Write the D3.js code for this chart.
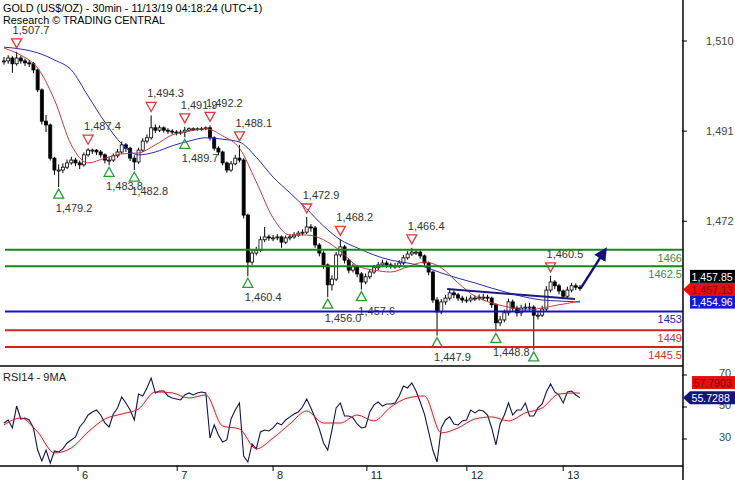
<!DOCTYPE html>
<html><head><meta charset="utf-8">
<script src="https://cdn.jsdelivr.net/npm/d3@7"></script>
<style>body{margin:0;background:#fff}svg{display:block}text{font-family:"Liberation Sans",Arial,sans-serif}</style>
</head><body><svg id="c" width="735" height="480"></svg>
<script>
// ---------- DATA ----------
const titleText = "GOLD (US$/OZ) - 30min - 11/13/19 04:18:24 (UTC+1)";
const subTitle = "Research \u00A9 TRADING CENTRAL";
const closes = [1505.8,1506.4,1505.2,1506.4,1505.8,1505.4,1505.2,1503.9,1499.7,1493.1,
1492.3,1485.3,1482.8,1482.8,1483.4,1484.3,1484.9,1484.3,1483.9,1486.0,
1487.0,1487.0,1486.6,1486.0,1484.9,1484.9,1485.8,1486.6,1488.1,1487.4,
1485.3,1484.5,1487.0,1488.9,1489.6,1491.7,1491.2,1491.7,1491.2,1491.0,
1490.8,1490.6,1490.8,1491.2,1491.5,1491.5,1491.5,1491.5,1491.7,1489.6,
1487.4,1486.6,1484.3,1482.8,1484.1,1485.3,1484.9,1473.3,1463.4,1465.3,
1465.9,1468.1,1468.7,1468.5,1468.5,1468.7,1467.6,1468.5,1468.7,1469.1,
1469.5,1469.7,1470.8,1470.6,1467.0,1465.3,1462.8,1458.6,1459.8,1464.9,
1466.6,1463.8,1461.7,1462.4,1460.9,1459.2,1460.3,1461.3,1462.2,1462.8,
1463.2,1462.8,1462.6,1462.6,1463.2,1464.3,1465.1,1465.5,1465.5,1464.7,
1463.2,1461.3,1455.4,1452.9,1455.0,1455.8,1456.9,1456.5,1455.8,1455.4,
1455.4,1455.8,1455.8,1456.0,1456.0,1455.8,1454.4,1450.6,1451.2,1452.7,
1455.0,1453.7,1452.7,1453.7,1453.9,1453.9,1452.2,1452.2,1453.5,1457.5,
1459.2,1458.4,1457.3,1456.2,1457.5,1458.4,1458.1,1457.85];
const highs = [1506.6,1507.0,1506.8,1507.7,1506.9,1506.3,1506.0,1505.6,1504.2,1500.0,
1494.4,1492.6,1485.6,1484.0,1484.2,1485.0,1485.6,1485.4,1484.8,1486.5,
1487.4,1487.3,1487.2,1487.0,1486.3,1485.6,1486.3,1487.2,1488.8,1488.5,
1487.7,1485.9,1487.5,1489.5,1490.3,1494.3,1492.4,1492.2,1492.0,1491.6,
1491.4,1491.2,1491.3,1491.9,1491.8,1491.8,1491.8,1491.9,1492.0,1492.2,
1489.9,1487.8,1486.9,1484.6,1484.7,1486.0,1488.1,1485.3,1473.6,1466.0,
1466.6,1468.8,1470.8,1469.2,1469.1,1469.3,1469.0,1469.0,1469.3,1469.7,
1470.0,1470.3,1472.9,1471.4,1471.0,1467.4,1465.7,1463.1,1460.6,1465.5,
1468.2,1467.0,1464.2,1463.1,1462.8,1461.3,1461.0,1461.9,1462.8,1463.4,
1463.9,1463.7,1463.3,1463.2,1463.8,1464.9,1465.7,1466.4,1466.1,1465.9,
1465.0,1463.5,1461.6,1456.0,1455.6,1456.5,1457.5,1457.4,1456.9,1456.3,
1456.1,1456.4,1456.4,1456.6,1456.7,1456.5,1456.1,1454.7,1452.0,1453.4,
1455.7,1455.5,1454.2,1454.4,1454.7,1454.8,1454.3,1453.0,1454.2,1458.3,
1460.5,1459.6,1458.8,1457.6,1458.2,1459.0,1458.9,1458.6];
const lows = [1505.0,1505.2,1503.3,1504.8,1505.2,1504.7,1504.5,1503.2,1499.2,1492.4,
1490.8,1484.8,1481.8,1479.2,1482.2,1483.0,1483.9,1483.6,1483.0,1483.5,
1485.6,1486.2,1486.0,1485.4,1484.2,1483.8,1484.5,1485.4,1486.2,1486.6,
1484.7,1482.8,1484.1,1486.6,1488.4,1489.2,1490.6,1490.8,1490.7,1490.4,
1490.3,1490.1,1490.2,1489.7,1490.9,1491.0,1491.1,1491.1,1491.2,1489.0,
1486.9,1485.9,1483.8,1482.2,1482.4,1483.8,1484.4,1472.6,1460.4,1462.8,
1464.8,1465.5,1467.6,1467.9,1467.8,1468.0,1466.4,1467.2,1468.0,1468.3,
1468.7,1469.0,1469.3,1469.8,1466.4,1464.6,1462.0,1456.0,1457.4,1459.4,
1464.4,1463.1,1461.0,1461.2,1460.2,1457.6,1458.7,1459.8,1460.9,1461.7,
1462.3,1462.2,1462.0,1462.0,1462.1,1462.8,1463.9,1464.7,1464.9,1464.1,
1462.6,1460.6,1454.8,1447.9,1452.4,1454.4,1455.3,1455.8,1455.2,1454.8,
1454.8,1454.9,1455.2,1455.3,1455.4,1455.1,1453.7,1448.8,1449.9,1450.7,
1452.1,1453.0,1451.9,1452.0,1453.0,1453.1,1444.9,1451.3,1451.8,1453.0,
1457.0,1457.7,1456.6,1455.6,1455.8,1457.0,1457.5,1457.3];
// moving averages, read at these bar indices
const maIndex = [0,4,8,12,16,20,24,28,32,36,40,44,48,52,56,60,64,68,72,76,80,84,88,92,96,100,104,108,112,116,120,124,128,132,136,137];
const maFast = [1508.5,1507.0,1504.3,1497.6,1488.1,1484.3,1485.3,1486.2,1486.4,1488.1,1490.2,1491.0,1491.5,1490.0,1487.4,1480.3,1472.7,1469.1,1469.1,1468.1,1465.7,1462.6,1461.7,1461.3,1462.4,1463.4,1462.2,1459.0,1456.2,1454.8,1453.9,1453.3,1453.7,1454.4,1455.0,1455.2];
const maSlow = [1508.7,1508.3,1507.5,1506.0,1503.9,1498.4,1492.9,1488.3,1486.0,1486.6,1487.9,1488.9,1489.6,1489.3,1488.7,1485.5,1481.3,1478.0,1474.6,1471.0,1468.1,1466.4,1464.9,1463.8,1463.2,1462.4,1461.1,1460.0,1459.0,1457.9,1456.9,1456.0,1455.4,1455.2,1455.0,1454.96];
const rsi = [40.0,41.9,36.9,50.6,42.5,43.1,41.9,36.9,23.1,16.3,
23.1,15.0,22.5,21.9,23.8,27.5,29.4,31.3,37.5,40.6,
45.0,46.9,48.1,45.0,40.0,37.5,45.6,49.4,56.3,52.5,
48.1,41.9,58.1,56.9,61.9,68.1,58.8,60.0,60.0,56.9,
55.6,55.0,54.4,57.5,58.8,57.5,58.8,59.4,58.8,30.6,
38.8,32.5,28.1,29.4,42.5,48.1,52.5,19.4,15.6,26.9,
23.8,34.4,35.6,35.0,36.9,40.0,38.8,41.9,43.8,45.6,
46.9,50.0,55.0,49.4,43.1,36.3,27.5,23.1,35.6,49.4,
52.5,44.4,44.4,43.1,39.4,36.9,37.5,46.9,51.3,53.1,
50.6,51.9,51.9,52.5,56.9,63.1,61.9,65.0,60.0,53.1,
45.6,34.4,23.1,15.6,36.9,41.9,43.8,39.4,38.8,41.3,
41.9,48.1,46.3,48.1,47.5,45.0,36.9,26.3,39.4,45.0,
52.5,45.0,48.1,48.1,52.5,44.4,44.4,49.4,51.9,59.4,
64.4,59.4,57.5,52.5,59.4,60.0,57.5,55.7288];
const rsiMA = [38.8,43.1,34.4,21.3,24.4,34.4,42.5,45.6,48.8,59.4,58.8,55.6,57.5,38.1,36.3,23.8,30.6,39.4,47.5,40.0,40.0,45.0,41.3,50.0,55.6,56.9,33.8,36.9,42.5,43.8,41.3,46.3,49.4,58.1,58.8,58.6];
const priceTicks = [1510,1491,1472];
const rsiTicks = [70,50,30];
const dayLabels = ["6","7","8","11","12","13"];
const dayStartIdx = [17.6,41.2,64,86.3,110.1,133];
const levelValues = [1466,1462.5,1453,1449,1445.5];
const levelKinds = ["res","res","pivot","sup","sup"];
const markerIdx  = [3,13,20,25,31,35,43,43,49,56,58,72,77,80,85,97,103,117,126,130];
const markerType = ["H","L","H","L","L","H","H","L","H","H","L","H","L","H","L","H","L","L","L","H"];
const trendFrom = [105.4,1457.7], trendTo = [135.8,1455.6];
const arrowFrom = [137.2,1457.9], arrowTo = [143,1465.9];
const lastClose = 1457.85, lastPointer = 1457.13, slowMALast = 1454.96;
const rsiMALast = 57.7903, rsiLast = 55.7288;

// ---------- CHART ----------
const svg = d3.select("#c");
const axisX = 683;
const x = d3.scaleLinear().domain([0,137]).range([4,580]);
const y = d3.scaleLinear().domain([1441.49,1518.64]).range([366,0]);
const yr = d3.scaleLinear().domain([13.125,75.625]).range([466,366]);
const step = x(1)-x(0);
const fmt = d3.format(",.1f");
const fmt2 = d3.format(",.2f");

const defs = svg.append("defs");
defs.append("clipPath").attr("id","mainClip").append("rect").attr("x",0).attr("y",0).attr("width",axisX).attr("height",366);
defs.append("clipPath").attr("id","rsiClip").append("rect").attr("x",0).attr("y",366).attr("width",axisX).attr("height",100);
defs.append("marker").attr("id","ah").attr("viewBox","0 0 10 10").attr("refX",2).attr("refY",5)
  .attr("markerWidth",5.5).attr("markerHeight",5.5).attr("orient","auto")
  .append("path").attr("d","M0,0 L10,5 L0,10 Z").attr("fill","#12127a");

// title
svg.append("text").attr("x",3).attr("y",12).attr("font-size",10.8).attr("fill","#000").text(titleText);
svg.append("text").attr("x",3).attr("y",24).attr("font-size",10.8).attr("fill","#000").text(subTitle);

const main = svg.append("g").attr("clip-path","url(#mainClip)");

// candles
const candles = closes.map((c,i)=>({i,o:i?closes[i-1]:closes[0],h:highs[i],l:lows[i],c}));
const cg = main.append("g");
cg.selectAll("line.w").data(candles).join("line")
  .attr("x1",d=>x(d.i)).attr("x2",d=>x(d.i)).attr("y1",d=>y(d.h)).attr("y2",d=>y(d.l))
  .attr("stroke","#000").attr("stroke-width",1);
const bw = step*0.72;
cg.selectAll("rect").data(candles).join("rect")
  .attr("x",d=>x(d.i)-bw/2).attr("width",bw)
  .attr("y",d=>y(Math.max(d.o,d.c))).attr("height",d=>Math.max(1,Math.abs(y(d.o)-y(d.c))))
  .attr("fill",d=>d.c>=d.o?"#fff":"#000").attr("stroke","#000").attr("stroke-width",0.8);

// moving averages
const maLine = d3.line().x(d=>x(d[0])).y(d=>y(d[1])).curve(d3.curveMonotoneX);
main.append("path").attr("d",maLine(maIndex.map((k,j)=>[k,maSlow[j]]))).attr("fill","none").attr("stroke","#2b2ba8").attr("stroke-width",1);
main.append("path").attr("d",maLine(maIndex.map((k,j)=>[k,maFast[j]]))).attr("fill","none").attr("stroke","#c23a3a").attr("stroke-width",1);

// level lines
const levelColor = {res:"#138a13",pivot:"#1414c4",sup:"#d42222"};
const levelText = {res:"#3c8c3c",pivot:"#2424a0",sup:"#c83434"};
levelValues.forEach((v,j)=>{
  svg.append("line").attr("x1",5).attr("x2",axisX).attr("y1",y(v)).attr("y2",y(v))
    .attr("stroke",levelColor[levelKinds[j]]).attr("stroke-width",2);
  svg.append("text").attr("x",axisX-1).attr("y",y(v)+12).attr("text-anchor","end")
    .attr("font-size",11).attr("fill",levelText[levelKinds[j]]).text(String(v));
});

// trend line
main.append("line").attr("x1",x(trendFrom[0])).attr("y1",y(trendFrom[1])).attr("x2",x(trendTo[0])).attr("y2",y(trendTo[1]))
  .attr("stroke","#1a1a80").attr("stroke-width",2);

// arrow
svg.append("line").attr("x1",x(arrowFrom[0])).attr("y1",y(arrowFrom[1])).attr("x2",x(arrowTo[0])-4).attr("y2",y(arrowTo[1])+6)
  .attr("stroke","#12127a").attr("stroke-width",2.4).attr("marker-end","url(#ah)");

// markers
const mg = main.append("g");
markerIdx.forEach((i,j)=>{
  const cx = x(i);
  if(markerType[j]==="H"){
    const v = highs[i], cy = y(v)-9;
    mg.append("path").attr("d",`M${cx-5},${cy-4}L${cx+5},${cy-4}L${cx},${cy+5}Z`)
      .attr("fill","none").attr("stroke","#e0383f").attr("stroke-width",1.3);
    mg.append("text").attr("x",cx-4).attr("y",cy-9).attr("font-size",11).attr("fill","#333").text(fmt(v));
  } else {
    const v = lows[i], cy = y(v)+7;
    mg.append("path").attr("d",`M${cx},${cy-5}L${cx-5},${cy+4}L${cx+5},${cy+4}Z`)
      .attr("fill","none").attr("stroke","#2f9a3a").attr("stroke-width",1.3);
    mg.append("text").attr("x",cx-3).attr("y",cy+18).attr("font-size",11).attr("fill","#333").text(fmt(v));
  }
});

// RSI panel
const rg = svg.append("g").attr("clip-path","url(#rsiClip)");
const rsiMALine = d3.line().x(d=>x(d[0])).y(d=>yr(d[1])).curve(d3.curveMonotoneX);
const rsiMAData = maIndex.map((k,j)=>[k,rsiMA[j]]);
rg.append("path").attr("d",rsiMALine(rsiMAData)).attr("fill","none").attr("stroke","#f8d4da").attr("stroke-width",5).attr("opacity",0.35);
rg.append("path").attr("d",d3.line().x((d,i)=>x(i)).y(d=>yr(d))(rsi)).attr("fill","none").attr("stroke","#14144a").attr("stroke-width",1.1);
rg.append("path").attr("d",rsiMALine(rsiMAData)).attr("fill","none").attr("stroke","#b03030").attr("stroke-width",1);
svg.append("text").attr("x",3).attr("y",381).attr("font-size",11).attr("fill","#222").text("RSI14 - 9MA");

// frame lines
svg.append("line").attr("x1",0).attr("x2",axisX).attr("y1",366).attr("y2",366).attr("stroke","#000").attr("stroke-width",1.5);
svg.append("line").attr("x1",0).attr("x2",axisX).attr("y1",466).attr("y2",466).attr("stroke","#000").attr("stroke-width",1.5);
svg.append("line").attr("x1",axisX).attr("x2",axisX).attr("y1",0).attr("y2",480).attr("stroke","#000").attr("stroke-width",1.5);

// price axis
priceTicks.forEach(v=>{
  svg.append("line").attr("x1",axisX-1).attr("x2",axisX+4).attr("y1",y(v)).attr("y2",y(v)).attr("stroke","#000");
  svg.append("text").attr("x",706).attr("y",y(v)+4).attr("font-size",11).attr("fill","#444").text(d3.format(",")(v));
});
// rsi axis
rsiTicks.forEach(v=>{
  svg.append("line").attr("x1",axisX-1).attr("x2",axisX+4).attr("y1",yr(v)).attr("y2",yr(v)).attr("stroke","#000");
  svg.append("text").attr("x",719).attr("y",yr(v)+2).attr("font-size",11).attr("fill","#444").text(v);
});
// day axis
dayLabels.forEach((t,j)=>{
  const px = x(dayStartIdx[j]);
  svg.append("line").attr("x1",px).attr("x2",px).attr("y1",466).attr("y2",471).attr("stroke","#000");
  svg.append("text").attr("x",px+4).attr("y",479).attr("font-size",11).attr("fill","#222").text(t);
});

// right value boxes
function box(yc, txt, fill, tcol, pointer, x0){
  const g = svg.append("g");
  const h = 13;
  if(pointer){
    g.append("path").attr("d",`M${axisX},${yc}L${x0},${yc-h/2}L735,${yc-h/2}L735,${yc+h/2}L${x0},${yc+h/2}Z`).attr("fill",fill);
  } else {
    g.append("rect").attr("x",x0).attr("y",yc-h/2).attr("width",735-x0).attr("height",h).attr("fill",fill);
  }
  g.append("text").attr("x",x0+1.5).attr("y",yc+4.2).attr("font-size",10.6).attr("fill",tcol).text(txt);
}
const pY = y(lastClose);
box(pY-12, fmt2(lastClose), "#000", "#fff", false, 690);
box(y(slowMALast), fmt2(slowMALast), "#1616d8", "#fff", false, 690);
box(pY+1, fmt2(lastPointer), "#e41010", "#8a0000", true, 690);
box(yr(rsiMALast)-12, d3.format(".4f")(rsiMALast), "#e41010", "#8a0000", false, 692);
box(yr(rsiLast), d3.format(".4f")(rsiLast), "#14147a", "#fff", true, 690);
</script></body></html>
